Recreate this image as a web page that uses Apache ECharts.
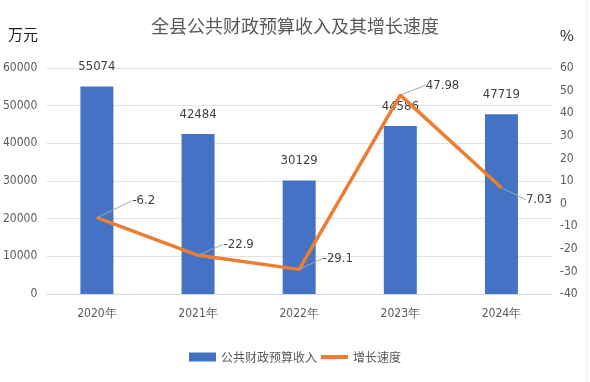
<!DOCTYPE html>
<html><head><meta charset="utf-8">
<script src="https://cdn.jsdelivr.net/npm/echarts@6/dist/echarts.min.js"></script>
<style>html,body{margin:0;padding:0;background:#fff;}#c{width:590px;height:382px;}</style>
</head><body><div id="c"></div>
<script>
var categories = ['2020年','2021年','2022年','2023年','2024年'];
var revenue = [55074, 42484, 30129, 44586, 47719];
var growth = [-6.2, -22.9, -29.1, 47.98, 7.03];
var growthLabels = ['-6.2','-22.9','-29.1','47.98','7.03'];
var labelOffsets = [[30,-17],[20,-11],[18,-11],[20,-10],[19,12]];

var CJK = '"Noto Sans CJK SC", sans-serif';
var NUM = '"Liberation Sans Narrow", "DejaVu Sans Condensed", sans-serif';
var chart = echarts.init(document.getElementById('c'));
chart.setOption({
  animation: false,
  backgroundColor: '#fff',
  title: {text: '全县公共财政预算收入及其增长速度', left: 'center', top: 12,
    textStyle: {fontFamily: CJK, fontSize: 18, fontWeight: 'normal', color: '#595959'}},
  graphic: [
    {type: 'text', left: 8, top: 27, style: {text: '万元', font: '15px "Noto Sans CJK SC"', fill: '#222'}},
    {type: 'text', left: 560, top: 28, style: {text: '%', font: '15px "Noto Sans CJK SC"', fill: '#222'}},
    {type: 'line', shape: {x1: 587, y1: 0, x2: 587, y2: 382}, style: {stroke: '#e6e6e6', lineWidth: 1}}
  ],
  legend: {bottom: 14, left: 'center', itemGap: 4, itemWidth: 27, itemHeight: 9,
    textStyle: {fontFamily: CJK, fontSize: 12, color: '#595959'},
    data: [{name: '公共财政预算收入', icon: 'rect'},
           {name: '增长速度', icon: 'path://M0,0 L27,0 L27,4 L0,4 Z'}]},
  grid: {left: 42, right: 38, top: 68, bottom: 88},
  xAxis: {type: 'category', data: categories,
    axisLine: {lineStyle: {color: '#d9d9d9'}}, axisTick: {show: false},
    axisLabel: {fontFamily: NUM, fontSize: 12, color: '#595959', margin: 14}},
  yAxis: [
    {type: 'value', min: 0, max: 60000, interval: 10000,
      axisLabel: {fontFamily: NUM, fontSize: 12, color: '#595959', margin: 9,
        formatter: function(v){ return String(v); }},
      splitLine: {lineStyle: {color: '#e3e3e3'}}, axisLine: {show: false}, axisTick: {show: false}},
    {type: 'value', min: -40, max: 60, interval: 10, position: 'right',
      axisLabel: {fontFamily: NUM, fontSize: 12, color: '#595959', margin: 8,
        formatter: function(v){ return String(v); }},
      splitLine: {show: false}, axisLine: {show: false}, axisTick: {show: false}}
  ],
  series: [
    {name: '公共财政预算收入', type: 'bar', data: revenue, barWidth: 33,
      itemStyle: {color: '#4472C4'},
      label: {show: true, position: 'top', distance: 13, fontFamily: NUM, fontSize: 13, color: '#404040'}},
    {name: '增长速度', type: 'line', yAxisIndex: 1, data: growth,
      symbol: 'circle', symbolSize: 1, showSymbol: true,
      lineStyle: {color: '#ED7D31', width: 3.5}, itemStyle: {color: '#ED7D31'},
      label: {show: true, position: 'right', distance: 5, fontFamily: NUM, fontSize: 13, color: '#404040',
        formatter: function(p){ return growthLabels[p.dataIndex]; }},
      labelLine: {show: true, lineStyle: {color: '#a6a6a6', width: 1}},
      labelLayout: function(p){ var o = labelOffsets[p.dataIndex]; return {dx: o[0], dy: o[1]}; },
      z: 3}
  ]
});
</script></body></html>
